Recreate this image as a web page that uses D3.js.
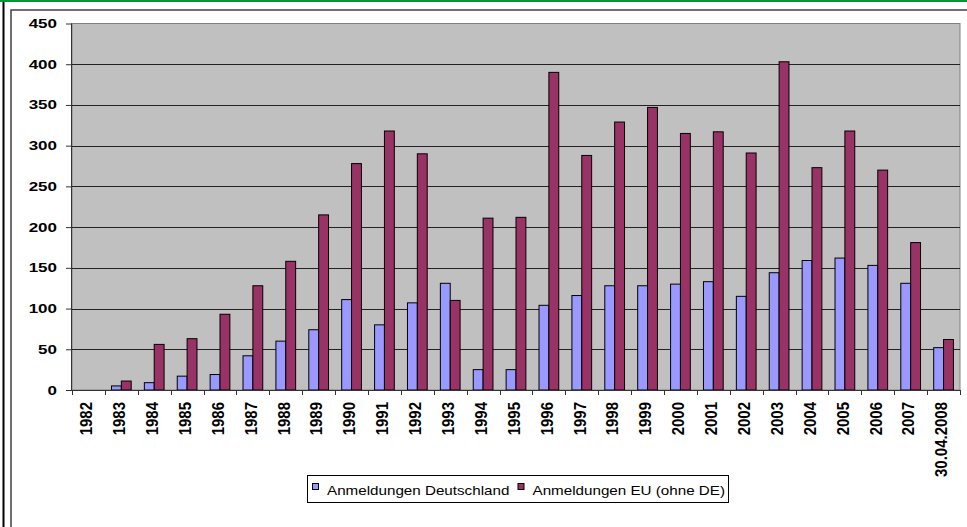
<!DOCTYPE html>
<html>
<head>
<meta charset="utf-8">
<script src="https://cdn.jsdelivr.net/npm/d3@7"></script>
<style>
  html, body { margin: 0; padding: 0; background: #fff; }
  #chart { width: 967px; height: 527px; }
  svg { display: block; font-family: 'Liberation Sans', Arial, sans-serif; }
</style>
</head>
<body>
<div id="chart"></div>
<script>
const years = ['1982', '1983', '1984', '1985', '1986', '1987', '1988', '1989', '1990', '1991',
  '1992', '1993', '1994', '1995', '1996', '1997', '1998', '1999', '2000', '2001', '2002',
  '2003', '2004', '2005', '2006', '2007', '30.04.2008'];
const deutschland = [0, 5, 9, 17, 19, 42, 60, 74, 111, 80, 107, 131, 25, 25, 104, 116, 128,
  128, 130, 133, 115, 144, 159, 162, 153, 131, 52];
const euOhneDe = [0, 11, 56, 63, 93, 128, 158, 215, 278, 318, 290, 110, 211, 212, 390, 288,
  329, 347, 315, 317, 291, 403, 273, 318, 270, 181, 62];
const seriesNames = ['Anmeldungen Deutschland', 'Anmeldungen EU (ohne DE)'];
const seriesColors = ['#9999FF', '#993366'];
const yTicks = [0, 50, 100, 150, 200, 250, 300, 350, 400, 450];

const width = 967;
const height = 527;
const margin = { top: 23.5, right: 7, bottom: 137, left: 72 };
const font = "'Liberation Sans', Arial, sans-serif";

const svg = d3.create('svg')
  .attr('width', width)
  .attr('height', height)
  .attr('viewBox', [0, 0, width, height]);

/* FRAME */

svg.append('line')
  .attr('x1', 0).attr('x2', width)
  .attr('y1', 1).attr('y2', 1)
  .attr('stroke', '#00993a')
  .attr('stroke-width', 2);

svg.append('line')
  .attr('x1', 3.5).attr('x2', 3.5)
  .attr('y1', 2).attr('y2', height)
  .attr('stroke', '#000')
  .attr('stroke-width', 2);

svg.append('rect')
  .attr('x', 11)
  .attr('y', 10)
  .attr('width', width)
  .attr('height', height)
  .attr('fill', '#fff')
  .attr('stroke', '#404040')
  .attr('stroke-width', 1.5);

/* SCALES */

const x = d3.scaleBand()
  .domain(years)
  .range([margin.left, width - margin.right]);

const y = d3.scaleLinear()
  .domain([0, 450])
  .range([height - margin.bottom, margin.top]);

const plotBottom = y(0);
const plotTop = y(450);

svg.append('rect')
  .attr('x', x.range()[0])
  .attr('y', plotTop)
  .attr('width', x.range()[1] - x.range()[0])
  .attr('height', plotBottom - plotTop)
  .attr('fill', '#C0C0C0')
  .attr('stroke', '#808080')
  .attr('stroke-width', 1);

/* GRID + Y AXIS */

svg.append('g')
  .attr('stroke', '#222')
  .attr('stroke-width', 1)
  .selectAll('line')
  .data(yTicks.filter((d) => d > 0 && d < 450))
  .join('line')
  .attr('x1', x.range()[0])
  .attr('x2', x.range()[1])
  .attr('y1', (d) => Math.round(y(d)) + 0.5)
  .attr('y2', (d) => Math.round(y(d)) + 0.5);

const yStretch = 1.35;

svg.append('g')
  .attr('transform', `translate(${margin.left}, 0)`)
  .call(d3.axisLeft(y)
    .tickValues(yTicks)
    .tickSize(6))
  .call((g) => g.select('.domain').attr('stroke', '#333').attr('d', `M-0.5,${plotTop}V${plotBottom}`))
  .call((g) => g.selectAll('.tick line').attr('stroke', '#333'))
  .call((g) => g.selectAll('.tick text')
    .attr('x', -15 / yStretch)
    .attr('transform', `scale(${yStretch},1)`)
    .attr('fill', '#000')
    .style('font-size', '12.6px')
    .style('font-weight', 'bold')
    .style('font-family', font));

/* BARS */

const bw = x.bandwidth();
const barW = bw * 0.3;
const offset = bw * 0.2;

const values = [deutschland, euOhneDe];

values.forEach((vals, s) => {
  svg.append('g')
    .attr('fill', seriesColors[s])
    .attr('stroke', '#000')
    .attr('stroke-width', 1)
    .selectAll('rect')
    .data(years.map((yr, i) => ({ yr, v: vals[i] })).filter((d) => d.v > 0))
    .join('rect')
    .attr('x', (d) => x(d.yr) + offset + s * barW)
    .attr('y', (d) => y(d.v))
    .attr('width', barW)
    .attr('height', (d) => plotBottom - y(d.v));
});

/* X AXIS */

svg.append('g')
  .attr('transform', `translate(0, ${plotBottom})`)
  .call(d3.axisBottom(x).tickSize(0).tickPadding(0))
  .call((g) => g.select('.domain').attr('stroke', '#333').attr('d', `M${x.range()[0]},0.5H${x.range()[1]}`))
  .call((g) => g.selectAll('.tick text')
    .attr('transform', 'translate(-2, 0) scale(1.1,1) rotate(-90)')
    .attr('x', -12)
    .attr('y', 0)
    .attr('dy', '0.35em')
    .attr('text-anchor', 'end')
    .attr('fill', '#000')
    .style('font-size', '15px')
    .style('font-weight', 'bold')
    .style('font-family', font));

svg.append('g')
  .attr('stroke', '#333')
  .selectAll('line')
  .data(years.concat(['end']))
  .join('line')
  .attr('x1', (d, i) => Math.round(x.range()[0] + i * bw) + 0.5)
  .attr('x2', (d, i) => Math.round(x.range()[0] + i * bw) + 0.5)
  .attr('y1', plotBottom)
  .attr('y2', plotBottom + 5);

/* LEGEND */

const legend = svg.append('g')
  .attr('transform', 'translate(307, 475)');

legend.append('rect')
  .attr('x', 0.5)
  .attr('y', 0.5)
  .attr('width', 421)
  .attr('height', 27)
  .attr('fill', '#fff')
  .attr('stroke', '#000');

const legendX = [5, 210.5];
const legendStretch = 1.17;

seriesNames.forEach((name, i) => {
  legend.append('rect')
    .attr('x', legendX[i] + 0.5)
    .attr('y', 8.5)
    .attr('width', 6)
    .attr('height', 6)
    .attr('fill', seriesColors[i])
    .attr('stroke', '#000');
  legend.append('text')
    .attr('transform', `translate(${legendX[i] + 15}, 20) scale(${legendStretch},1)`)
    .style('font-size', '13px')
    .text(name);
});

document.getElementById('chart').appendChild(svg.node());
</script>
</body>
</html>
